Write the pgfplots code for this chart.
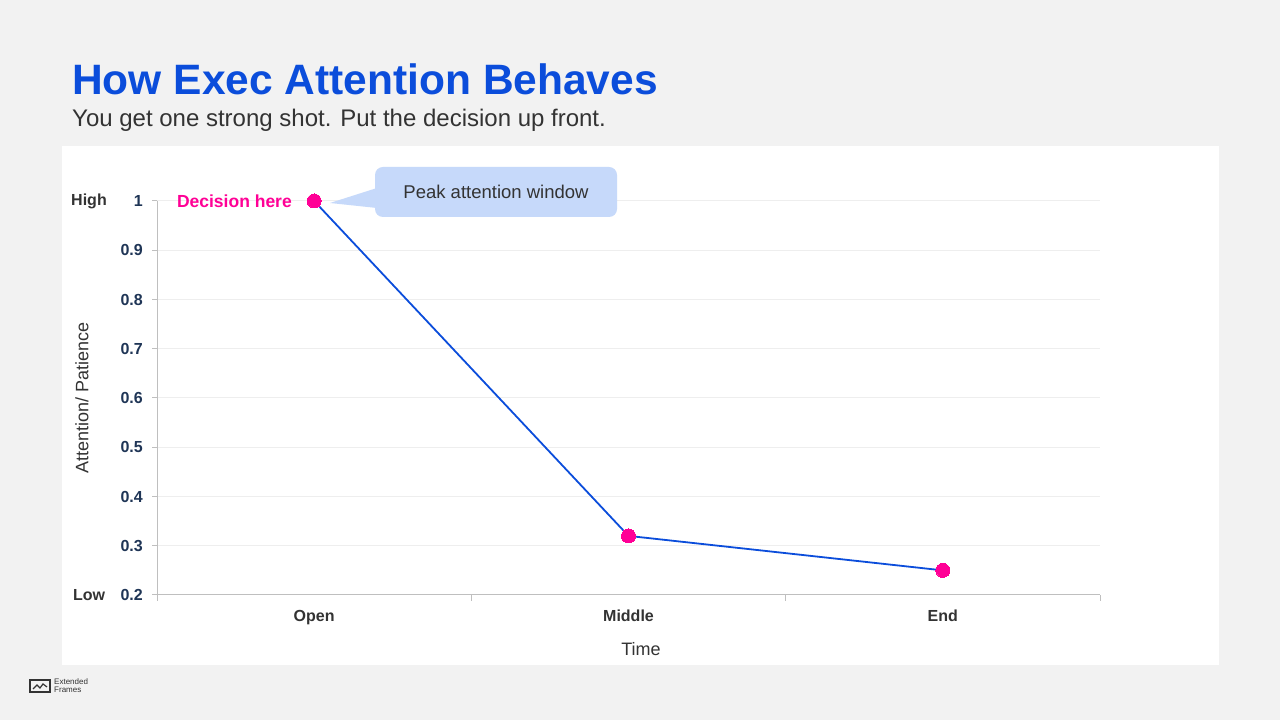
\documentclass[border=0pt]{standalone}
\usepackage{fontspec}
\setmainfont{Liberation Sans}
\usepackage{pgfplots}
\pgfplotsset{compat=1.18}
\definecolor{bgc}{HTML}{F2F2F2}
\definecolor{titleblue}{HTML}{0B4DDB}
\definecolor{subgray}{HTML}{333333}
\definecolor{navyc}{HTML}{1F3556}
\definecolor{linecol}{HTML}{0B4DDB}
\definecolor{magc}{HTML}{FF0096}
\definecolor{callfill}{HTML}{C6D9FA}
\definecolor{gridc}{HTML}{EEEEEE}
\definecolor{axisc}{HTML}{BFBFBF}
\begin{document}
\begin{tikzpicture}[x=1pt,y=1pt]
\fill[bgc] (0,0) rectangle (1280,720);
\fill[white] (62,55) rectangle (1219,574);
\node[anchor=base west, inner sep=0, text=titleblue, font=\fontsize{42.5}{50}\selectfont\bfseries] at (72,625) {How Exec Attention Behaves};
\node[anchor=base west, inner sep=0, text=subgray, font=\fontsize{24}{28}\selectfont] at (72,593) {You get one strong shot. Put the decision up front.};
\begin{axis}[
  at={(157pt,125pt)}, anchor=south west,
  scale only axis, width=943pt, height=394pt,
  xmin=-0.5, xmax=2.5, ymin=0.2, ymax=1,
  axis x line*=bottom, axis y line*=left,
  axis line style={axisc, line width=1pt, -},
  xtick={0,1,2}, xticklabels={Open,Middle,End},
  minor xtick={-0.5,0.5,1.5,2.5},
  major x tick style={draw=none},
  minor x tick style={draw=axisc, line width=1pt},
  minor tick length=6pt,
  ytick={0.2,0.3,0.4,0.5,0.6,0.7,0.8,0.9,1},
  yticklabels={0.2,0.3,0.4,0.5,0.6,0.7,0.8,0.9,1},
  tick align=outside,
  major tick length=5pt,
  y tick style={draw=axisc, line width=1pt},
  ymajorgrids, grid style={gridc, line width=1pt},
  yticklabel style={font=\fontsize{16}{16}\selectfont\bfseries, text=navyc, inner sep=0pt, anchor=east, xshift=-9pt},
  xticklabel style={font=\fontsize{16}{16}\selectfont\bfseries, text=subgray, inner sep=0pt, anchor=base, yshift=-22pt},
  clip=false,
]
\addplot[linecol, line width=1.8pt, mark=*, mark size=7pt, mark options={fill=magc, draw=magc, line width=0pt}] coordinates {(0,1) (1,0.32) (2,0.25)};
\end{axis}
% callout
\fill[callfill] (330,517) -- (377,532) -- (377,512) -- cycle;
\fill[callfill, rounded corners=8pt] (375,503) rectangle (617,553);
\node[text=subgray, font=\fontsize{18.5}{20}\selectfont] at (496,528) {Peak attention window};
\node[anchor=east, inner sep=0, text=magc, font=\fontsize{17.5}{20}\selectfont\bfseries] at (292,519) {Decision here};
% High / Low
\node[text=subgray, font=\fontsize{16}{16}\selectfont\bfseries] at (89,519) {High};
\node[text=subgray, font=\fontsize{16}{16}\selectfont\bfseries] at (89,125) {Low};
% axis labels
\node[rotate=90, text=subgray, font=\fontsize{18}{20}\selectfont] at (82,322) {Attention/ Patience};
\node[text=subgray, font=\fontsize{18}{20}\selectfont] at (641,71) {Time};
% logo
\draw[subgray, line width=1.4pt] (30,28) rectangle (50,40);
\draw[subgray, line width=1.2pt] (33,31) -- (37,35) -- (40,32) -- (43,36) -- (47,33);
\node[anchor=west, inner sep=0, text=subgray, font=\fontsize{8}{9}\selectfont] at (54,38) {Extended};
\node[anchor=west, inner sep=0, text=subgray, font=\fontsize{8}{9}\selectfont] at (54,30) {Frames};
\end{tikzpicture}
\end{document}
